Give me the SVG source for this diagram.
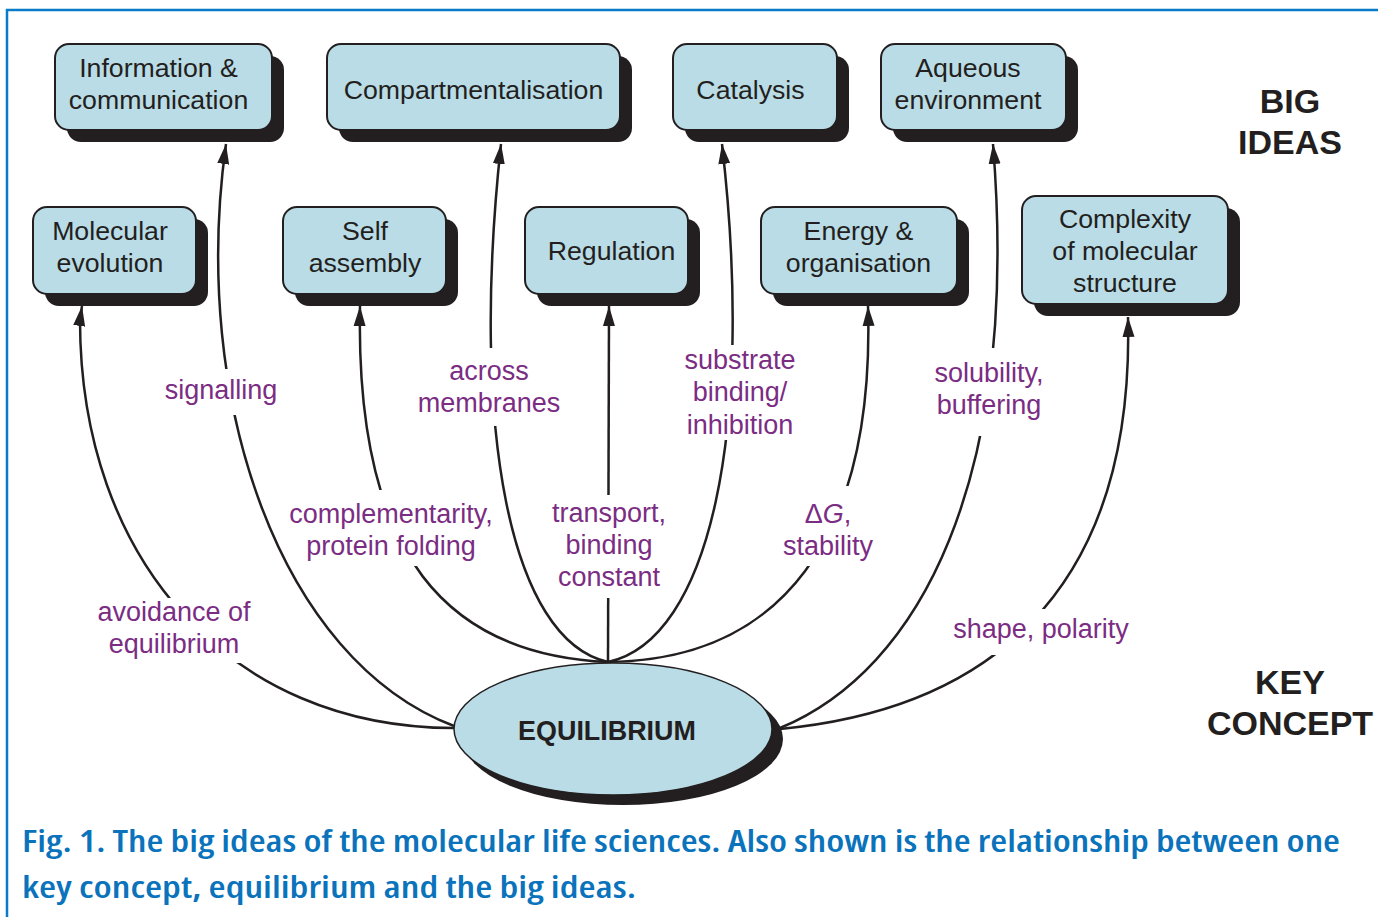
<svg xmlns="http://www.w3.org/2000/svg" width="1378" height="917" viewBox="0 0 1378 917">
<style>
.box{fill:#b9dce6;stroke:#231f20;stroke-width:2}
.shadow{fill:#231f20}
.bt{font-family:"Liberation Sans",Arial,sans-serif;font-size:26.7px;fill:#231f20;text-anchor:middle}
.lab{font-family:"Liberation Sans",Arial,sans-serif;font-size:27px;fill:#7b2c83;text-anchor:middle}
.big{font-family:"Liberation Sans",Arial,sans-serif;font-size:34px;font-weight:bold;fill:#231f20;text-anchor:middle}
.con{fill:none;stroke:#231f20;stroke-width:2.5}
.cap{font-family:"Open Sans","Liberation Sans",sans-serif;font-size:31px;font-weight:600;fill:#0a73bb;font-stretch:condensed}
</style>
<defs>
<marker id="arr" markerUnits="userSpaceOnUse" markerWidth="22" markerHeight="14" refX="20" refY="6" orient="auto" viewBox="0 0 22 12">
<path d="M0,0 L20,6 L0,12 Z" fill="#231f20"/>
</marker>
<mask id="m-sig" maskUnits="userSpaceOnUse" x="0" y="0" width="1378" height="917"><rect width="1378" height="917" fill="#fff"/><rect x="160" y="369" width="130" height="46" fill="#000"/></mask>
<mask id="m-avoid" maskUnits="userSpaceOnUse" x="0" y="0" width="1378" height="917"><rect width="1378" height="917" fill="#fff"/><rect x="95" y="598" width="160" height="65" fill="#000"/></mask>
<mask id="m-comp" maskUnits="userSpaceOnUse" x="0" y="0" width="1378" height="917"><rect width="1378" height="917" fill="#fff"/><rect x="285" y="490" width="215" height="76" fill="#000"/></mask>
<mask id="m-across" maskUnits="userSpaceOnUse" x="0" y="0" width="1378" height="917"><rect width="1378" height="917" fill="#fff"/><rect x="415" y="348" width="150" height="78" fill="#000"/></mask>
<mask id="m-trans" maskUnits="userSpaceOnUse" x="0" y="0" width="1378" height="917"><rect width="1378" height="917" fill="#fff"/><rect x="550" y="495" width="120" height="103" fill="#000"/></mask>
<mask id="m-sub" maskUnits="userSpaceOnUse" x="0" y="0" width="1378" height="917"><rect width="1378" height="917" fill="#fff"/><rect x="680" y="345" width="120" height="95" fill="#000"/></mask>
<mask id="m-dg" maskUnits="userSpaceOnUse" x="0" y="0" width="1378" height="917"><rect width="1378" height="917" fill="#fff"/><rect x="780" y="486" width="100" height="80" fill="#000"/></mask>
<mask id="m-sol" maskUnits="userSpaceOnUse" x="0" y="0" width="1378" height="917"><rect width="1378" height="917" fill="#fff"/><rect x="930" y="348" width="120" height="88" fill="#000"/></mask>
<mask id="m-shape" maskUnits="userSpaceOnUse" x="0" y="0" width="1378" height="917"><rect width="1378" height="917" fill="#fff"/><rect x="950" y="609" width="180" height="46" fill="#000"/></mask>
</defs>

<rect x="0" y="0" width="1378" height="917" fill="#fff"/>
<g id="frame" stroke="#0a7bc8" stroke-width="2.5" fill="none">
<path d="M7,917 L7,10 L1378,10"/>
</g>

<g id="connectors">
<path class="con" mask="url(#m-avoid)" marker-end="url(#arr)" d="M454,728 C230,728 80,560 80,320 L82,306"/>
<path class="con" mask="url(#m-sig)" marker-end="url(#arr)" d="M454,726 C280,660 190,400 226,144"/>
<path class="con" mask="url(#m-comp)" marker-end="url(#arr)" d="M608,662 C450,655 355,560 360,306"/>
<path class="con" mask="url(#m-across)" marker-end="url(#arr)" d="M608,662 C510,640 470,430 501,144"/>
<path class="con" mask="url(#m-trans)" marker-end="url(#arr)" d="M608,662 L609,306"/>
<path class="con" mask="url(#m-sub)" marker-end="url(#arr)" d="M608,662 C710,640 755,430 722,144"/>
<path class="con" mask="url(#m-dg)" marker-end="url(#arr)" d="M608,662 C780,660 875,540 868,306"/>
<path class="con" mask="url(#m-sol)" marker-end="url(#arr)" d="M780,728 C920,670 1020,480 993,144"/>
<path class="con" mask="url(#m-shape)" marker-end="url(#arr)" d="M780,729 C980,710 1135,600 1128,317"/>
</g>

<g id="labels">
<text class="lab" x="221" y="399">signalling</text>
<text class="lab" x="489" y="380">across</text>
<text class="lab" x="489" y="412">membranes</text>
<text class="lab" x="740" y="369">substrate</text>
<text class="lab" x="740" y="401">binding/</text>
<text class="lab" x="740" y="434">inhibition</text>
<text class="lab" x="989" y="382">solubility,</text>
<text class="lab" x="989" y="414">buffering</text>
<text class="lab" x="391" y="523">complementarity,</text>
<text class="lab" x="391" y="555">protein folding</text>
<text class="lab" x="609" y="522">transport,</text>
<text class="lab" x="609" y="554">binding</text>
<text class="lab" x="609" y="586">constant</text>
<text class="lab" x="828" y="523">Δ<tspan font-style="italic">G</tspan>,</text>
<text class="lab" x="828" y="555">stability</text>
<text class="lab" x="174" y="621">avoidance of</text>
<text class="lab" x="174" y="653">equilibrium</text>
<text class="lab" x="1041" y="638">shape, polarity</text>
</g>

<g id="node-info">
<rect class="shadow" x="67" y="56" width="217" height="86" rx="14"/>
<rect class="box" x="55" y="44" width="217" height="86" rx="14"/>
<text class="bt" x="158.5" y="77">Information &amp;</text>
<text class="bt" x="158.5" y="109">communication</text>
</g>
<g id="node-compart">
<rect class="shadow" x="339" y="56" width="293" height="86" rx="14"/>
<rect class="box" x="327" y="44" width="293" height="86" rx="14"/>
<text class="bt" x="473.5" y="99">Compartmentalisation</text>
</g>
<g id="node-catalysis">
<rect class="shadow" x="685" y="56" width="164" height="86" rx="14"/>
<rect class="box" x="673" y="44" width="164" height="86" rx="14"/>
<text class="bt" x="750.5" y="99">Catalysis</text>
</g>
<g id="node-aqueous">
<rect class="shadow" x="893" y="56" width="185" height="86" rx="14"/>
<rect class="box" x="881" y="44" width="185" height="86" rx="14"/>
<text class="bt" x="968" y="77">Aqueous</text>
<text class="bt" x="968" y="109">environment</text>
</g>
<g id="node-molevol">
<rect class="shadow" x="45" y="219" width="163" height="87" rx="14"/>
<rect class="box" x="33" y="207" width="163" height="87" rx="14"/>
<text class="bt" x="110" y="240">Molecular</text>
<text class="bt" x="110" y="272">evolution</text>
</g>
<g id="node-self">
<rect class="shadow" x="295" y="219" width="163" height="87" rx="14"/>
<rect class="box" x="283" y="207" width="163" height="87" rx="14"/>
<text class="bt" x="365" y="240">Self</text>
<text class="bt" x="365" y="272">assembly</text>
</g>
<g id="node-regulation">
<rect class="shadow" x="537" y="219" width="163" height="87" rx="14"/>
<rect class="box" x="525" y="207" width="163" height="87" rx="14"/>
<text class="bt" x="611.5" y="260">Regulation</text>
</g>
<g id="node-energy">
<rect class="shadow" x="773" y="219" width="196" height="87" rx="14"/>
<rect class="box" x="761" y="207" width="196" height="87" rx="14"/>
<text class="bt" x="858.5" y="240">Energy &amp;</text>
<text class="bt" x="858.5" y="272">organisation</text>
</g>
<g id="node-complexity">
<rect class="shadow" x="1034" y="208" width="206" height="108" rx="14"/>
<rect class="box" x="1022" y="196" width="206" height="108" rx="14"/>
<text class="bt" x="1125" y="228">Complexity</text>
<text class="bt" x="1125" y="260">of molecular</text>
<text class="bt" x="1125" y="292">structure</text>
</g>

<g id="node-equilibrium">
<ellipse class="shadow" cx="623" cy="739" rx="160" ry="66"/>
<ellipse cx="613" cy="729" rx="159" ry="66" fill="#b9dce6" stroke="#231f20" stroke-width="1.5"/>
<text class="big" x="607" y="740" style="font-size:26.9px">EQUILIBRIUM</text>
</g>

<g id="headings">
<text class="big" x="1290" y="113">BIG</text>
<text class="big" x="1290" y="154">IDEAS</text>
<text class="big" x="1290" y="694">KEY</text>
<text class="big" x="1290" y="735">CONCEPT</text>
</g>

<g id="caption">
<text class="cap" x="22" y="852" textLength="1318" lengthAdjust="spacingAndGlyphs">Fig. 1. The big ideas of the molecular life sciences. Also shown is the relationship between one</text>
<text class="cap" x="22" y="898" textLength="614" lengthAdjust="spacingAndGlyphs">key concept, equilibrium and the big ideas.</text>
</g>
</svg>
